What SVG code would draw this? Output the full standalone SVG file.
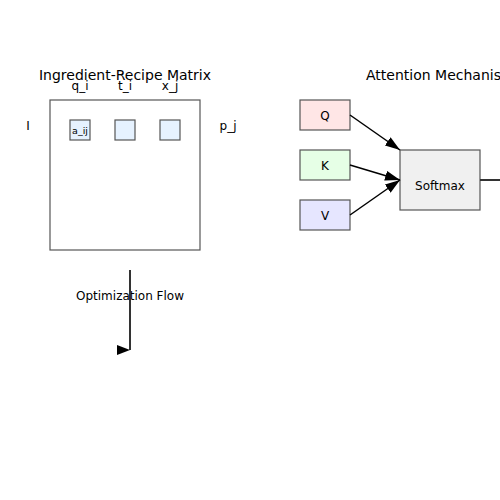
<svg xmlns="http://www.w3.org/2000/svg" width="500" height="500" viewBox="0 0 500 500">
<defs>
<style>
text{font-family:"DejaVu Sans",sans-serif;fill:#000}
.title{font-size:14px;text-anchor:middle}
.lbl{font-size:12px;text-anchor:middle}
.box{stroke:#555;stroke-width:1.2}
.cell{fill:#e6f2ff;stroke:#555;stroke-width:1.2}
.conn{stroke:#000;stroke-width:1.5;fill:none}
.conn2{stroke:#333;stroke-width:2;fill:none}
</style>
<marker id="ah" viewBox="0 0 10 10" refX="10" refY="5" markerWidth="15" markerHeight="10" markerUnits="userSpaceOnUse" orient="auto" preserveAspectRatio="none">
<path d="M0,0 L10,5 L0,10 z" fill="#000"/>
</marker>
<marker id="ah0" viewBox="0 0 10 10" refX="10" refY="5" markerWidth="13" markerHeight="10" markerUnits="userSpaceOnUse" orient="0" preserveAspectRatio="none">
<path d="M0,0 L10,5 L0,10 z" fill="#000"/>
</marker>
</defs>
<rect width="500" height="500" fill="#fff"/>
<g id="matrix">
<text class="title" x="125" y="80">Ingredient-Recipe Matrix</text>
<rect class="box" x="50" y="100" width="150" height="150" fill="#fff"/>
<text class="lbl" x="80" y="90">q_i</text>
<text class="lbl" x="125" y="90">t_i</text>
<text class="lbl" x="170" y="90">x_j</text>
<text class="lbl" x="28" y="130">I</text>
<text class="lbl" x="228" y="130">p_j</text>
</g>
<g id="cell1"><rect class="cell" x="70" y="120" width="20" height="20"/><text x="80" y="134" style="font-size:9.5px;text-anchor:middle">a_ij</text></g>
<g id="cell2"><rect class="cell" x="115" y="120" width="20" height="20"/></g>
<g id="cell3"><rect class="cell" x="160" y="120" width="20" height="20"/></g>
<g id="attention-title"><text x="366" y="80" style="font-size:14px">Attention Mechanism</text></g>
<g id="Q"><rect class="box" x="300" y="100" width="50" height="30" fill="#ffe6e6"/><text class="lbl" x="325" y="120">Q</text></g>
<g id="K"><rect class="box" x="300" y="150" width="50" height="30" fill="#e6ffe6"/><text class="lbl" x="325" y="170">K</text></g>
<g id="V"><rect class="box" x="300" y="200" width="50" height="30" fill="#e6e6ff"/><text class="lbl" x="325" y="220">V</text></g>
<g id="softmax"><rect class="box" x="400" y="150" width="80" height="60" fill="#f0f0f0"/><text class="lbl" x="440" y="190">Softmax</text></g>
<g id="flow-label"><text class="lbl" x="130" y="300">Optimization Flow</text></g>
<g id="connectors">
<line class="conn" x1="350" y1="115" x2="400" y2="150" marker-end="url(#ah)"/>
<line class="conn" x1="350" y1="165" x2="400" y2="180" marker-end="url(#ah)"/>
<line class="conn" x1="350" y1="215" x2="400" y2="180" marker-end="url(#ah)"/>
<line class="conn2" x1="480" y1="180" x2="500" y2="180"/>
<path class="conn2" d="M130,270 L130,350" marker-end="url(#ah0)"/>
</g>
</svg>
